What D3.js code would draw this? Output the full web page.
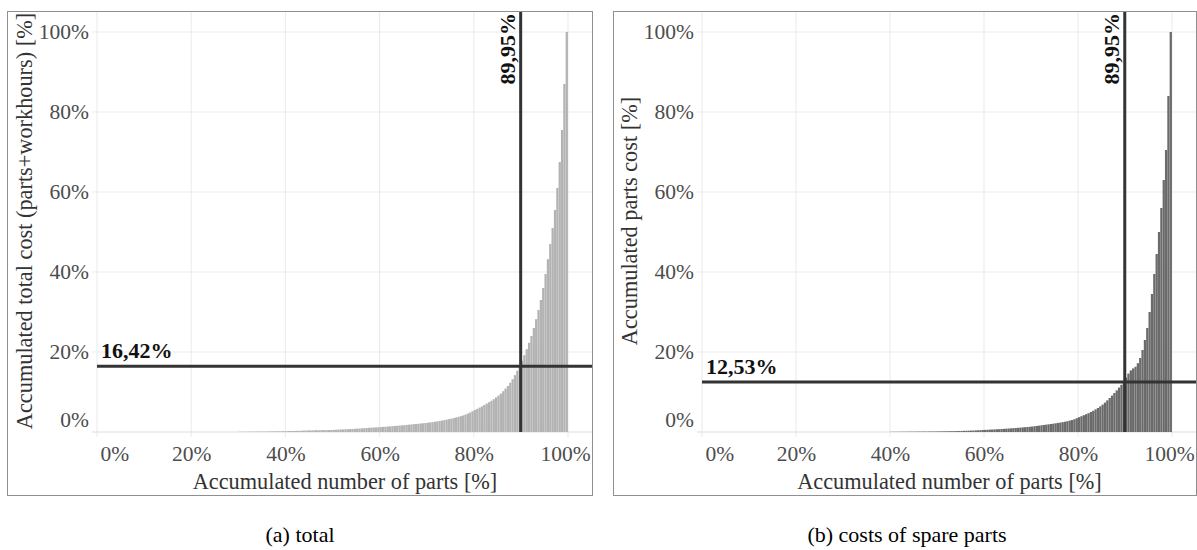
<!DOCTYPE html>
<html>
<head>
<meta charset="utf-8">
<script src="https://cdn.jsdelivr.net/npm/d3@7"></script>
<style>
  body { margin: 0; background: #fff; }
  svg { display: block; }
</style>
</head>
<body>
<div id="chart"></div>
<script>
// bins of 0.5% of parts, first bin ends at 30.5%
var binStart = 30;
var binStep = 0.5;

// accumulated cost [%] at the end of each bin
var totalCost = [
  0.05,0.06,0.06,0.07,0.08,0.08,0.09,0.1,0.1,0.11,0.12,0.12,0.13,0.14,0.15,0.16,0.17,0.18,0.19,0.2,
  0.22,0.23,0.25,0.26,0.28,0.3,0.32,0.34,0.36,0.38,0.4,0.41,0.43,0.44,0.45,0.46,0.47,0.48,0.49,0.5,
  0.53,0.56,0.59,0.62,0.65,0.68,0.71,0.74,0.77,0.8,0.84,0.88,0.92,0.96,1.0,1.04,1.08,1.12,1.16,1.2,
  1.24,1.28,1.32,1.36,1.41,1.46,1.51,1.56,1.61,1.66,1.71,1.77,1.83,1.89,1.95,2.01,2.07,2.13,2.19,2.25,
  2.32,2.4,2.48,2.57,2.66,2.76,2.86,2.97,3.09,3.21,3.34,3.48,3.63,3.79,3.96,4.15,4.36,4.6,4.88,5.2,
  5.5,5.8,6.1,6.4,6.75,7.1,7.45,7.8,8.2,8.65,9.1,9.6,10.2,10.85,11.5,12.3,13.2,14.2,15.3,16.5,
  17.8,19.2,20.7,22.3,24.0,26.0,28.2,30.5,33.0,36.0,39.5,43.2,47.0,51.0,55.5,61.0,67.5,75.5,87.0,100
];

var sparePartsCost = [
  0,0,0,0,0,0,0,0,0,0,0,0,0,0,0,0,0,0,0,0,
  0.05,0.05,0.06,0.06,0.07,0.07,0.08,0.08,0.09,0.09,0.1,0.1,0.11,0.11,0.12,0.12,0.13,0.13,0.14,0.14,
  0.15,0.16,0.17,0.18,0.19,0.2,0.21,0.22,0.23,0.25,0.27,0.29,0.31,0.33,0.35,0.37,0.4,0.43,0.46,0.5,
  0.53,0.56,0.59,0.62,0.65,0.68,0.71,0.75,0.79,0.83,0.87,0.91,0.95,1.0,1.05,1.1,1.15,1.2,1.25,1.3,
  1.37,1.44,1.52,1.6,1.68,1.76,1.84,1.92,2.0,2.08,2.17,2.26,2.36,2.46,2.57,2.7,2.85,3.0,3.2,3.45,
  3.7,3.95,4.2,4.45,4.7,5.0,5.3,5.65,6.0,6.4,6.85,7.35,7.9,8.5,9.1,9.75,10.4,11.1,11.8,12.6,
  13.6,14.6,15.4,15.9,16.3,17.2,18.5,20.5,23.0,26.0,30.0,34.5,39.5,44.5,50.0,56.0,63.0,70.5,84.0,100
];

var xTicks = [0, 20, 40, 60, 80, 100];
var yTicks = [0, 20, 40, 60, 80, 100];

var partsCut = 89.95;        // vertical reference line, both panels
var totalCostCut = 16.42;    // horizontal reference line, panel (a)
var spareCostCut = 12.53;    // horizontal reference line, panel (b)

var xTitle = "Accumulated number of parts [%]";
var yTitles = ["Accumulated total cost (parts+workhours) [%]", "Accumulated parts cost [%]"];
var captions = ["(a) total", "(b) costs of spare parts"];

var width = 1197;
var height = 550;
var serif = "Liberation Serif, Times New Roman, serif";

function fmtComma(v){
  return v.toFixed(2).replace(".", ",") + "%";
}

var svg = d3.select("#chart").append("svg")
    .attr("width", width)
    .attr("height", height)
    .attr("font-family", serif);

function drawPanel(opt){
  var g = svg.append("g");
  var x = d3.scaleLinear().domain([0, 100]).range([opt.x0, opt.x1]);
  var y = d3.scaleLinear().domain([0, 100]).range([432, 32]);
  var gridLeft = x(0) - 5, gridRight = opt.right, gridTop = 12, gridBottom = 437;

  // outer box
  g.append("rect")
      .attr("x", opt.left + 0.5)
      .attr("y", 11.5)
      .attr("width", opt.right - opt.left)
      .attr("height", 484)
      .attr("fill", "none")
      .attr("stroke", "#8f8f8f")
      .attr("stroke-width", 1);

  // grid
  g.append("g").selectAll("line")
    .data(xTicks)
    .join("line")
      .attr("x1", d => x(d)).attr("x2", d => x(d))
      .attr("y1", gridTop).attr("y2", gridBottom)
      .attr("stroke", "#ebebeb").attr("stroke-width", 1.1);
  g.append("g").selectAll("line")
    .data(yTicks)
    .join("line")
      .attr("x1", gridLeft).attr("x2", gridRight)
      .attr("y1", d => y(d)).attr("y2", d => y(d))
      .attr("stroke", d => d === 0 ? "#dedede" : "#ebebeb").attr("stroke-width", 1.1);

  // bars
  var bars = opt.values.map((v, i) => ({p: binStart + (i + 1) * binStep, v: v})).filter(d => d.v > 0);
  g.append("g").selectAll("rect")
    .data(bars)
    .join("rect")
      .attr("x", d => x(d.p - binStep))
      .attr("width", d => x(d.p) - x(d.p - binStep) - 0.08)
      .attr("y", d => y(d.v))
      .attr("height", d => y(0) - y(d.v))
      .attr("fill", opt.fill);

  // reference lines
  g.append("line")
      .attr("x1", x(0)).attr("x2", gridRight)
      .attr("y1", y(opt.hCut)).attr("y2", y(opt.hCut))
      .attr("stroke", "#333").attr("stroke-width", 3);
  g.append("line")
      .attr("x1", x(partsCut)).attr("x2", x(partsCut))
      .attr("y1", gridTop).attr("y2", y(0))
      .attr("stroke", "#333").attr("stroke-width", 3);

  g.append("text")
      .attr("x", x(0) + 4)
      .attr("y", y(opt.hCut) - 8)
      .attr("font-size", 22)
      .attr("font-weight", "bold")
      .attr("fill", "#111")
      .text(fmtComma(opt.hCut));
  g.append("text")
      .attr("transform", `translate(${x(partsCut) - 6},13) rotate(-90)`)
      .attr("text-anchor", "end")
      .attr("font-size", 22)
      .attr("font-weight", "bold")
      .attr("fill", "#111")
      .text(fmtComma(partsCut));

  // axes
  var yAxis = g.append("g")
      .attr("transform", `translate(${x(0) - 8},0)`)
      .call(d3.axisLeft(y).tickValues(yTicks).tickFormat(d => d + "%").tickSize(0).tickPadding(0))
      .attr("font-family", serif).attr("font-size", 21.5);
  yAxis.select(".domain").remove();
  yAxis.selectAll("text")
      .attr("font-family", serif).attr("font-size", 21.5).attr("fill", "#4d4d4d")
      .attr("y", d => d === 0 ? -12 : 0);

  var xAxis = g.append("g")
      .attr("transform", `translate(0,${gridBottom})`)
      .call(d3.axisBottom(x).tickValues(xTicks).tickFormat(d => d + "%").tickSize(0).tickPadding(9))
      .attr("font-family", serif).attr("font-size", 21.5);
  xAxis.select(".domain").remove();
  xAxis.selectAll("text")
      .attr("font-family", serif).attr("font-size", 21.5).attr("fill", "#4d4d4d")
      .attr("text-anchor", d => d === 0 ? "start" : "middle")
      .attr("x", d => d === 0 ? 3 : (d === 100 ? -3 : 0));

  // titles
  g.append("text")
      .attr("x", (gridLeft + gridRight) / 2 + 3)
      .attr("y", 489)
      .attr("text-anchor", "middle")
      .attr("font-size", 22.3)
      .attr("fill", "#333")
      .text(xTitle);
  g.append("text")
      .attr("transform", `translate(${opt.yTitleX},221) rotate(-90)`)
      .attr("text-anchor", "middle")
      .attr("font-size", 22.3)
      .attr("fill", "#333")
      .text(opt.yTitle);

  svg.append("text")
      .attr("x", opt.captionX)
      .attr("y", 542)
      .attr("text-anchor", "middle")
      .attr("font-size", 22)
      .attr("fill", "#000")
      .text(opt.caption);
}

drawPanel({left: 7, right: 592, x0: 97, x1: 568, values: totalCost, fill: "#b3b3b3",
           hCut: totalCostCut, yTitle: yTitles[0], yTitleX: 32, caption: captions[0], captionX: 300});
drawPanel({left: 613, right: 1196, x0: 702, x1: 1172, values: sparePartsCost, fill: "#6b6b6b",
           hCut: spareCostCut, yTitle: yTitles[1], yTitleX: 637, caption: captions[1], captionX: 907});
</script>
</body>
</html>
